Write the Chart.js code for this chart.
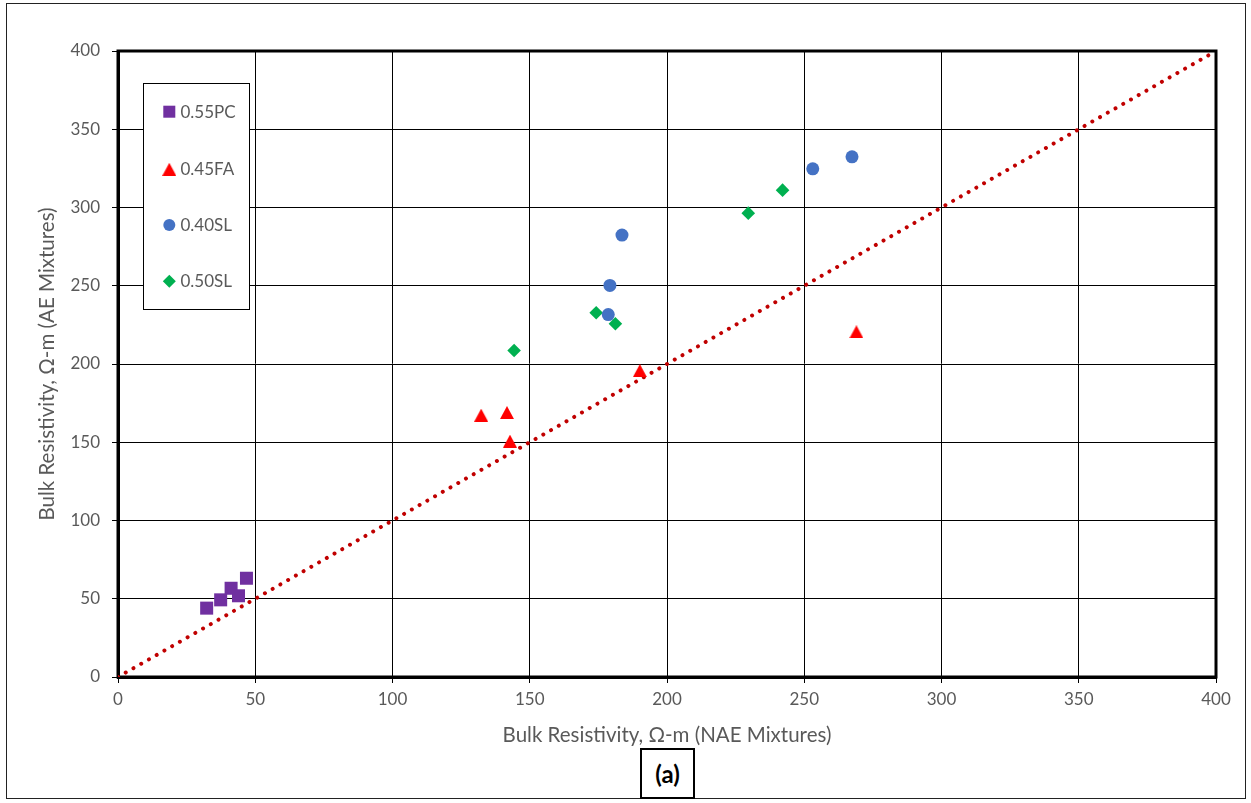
<!DOCTYPE html>
<html>
<head>
<meta charset="utf-8">
<script src="https://cdn.jsdelivr.net/npm/chart.js@4.4.1/dist/chart.umd.min.js"></script>
<style>
  html, body { margin: 0; padding: 0; background: #fff; }
  #wrap { position: relative; width: 1251px; height: 803px; }
  #frame { position: absolute; left: 6px; top: 3px; width: 1240px; height: 796px; border: 1px solid #222; box-sizing: border-box; pointer-events: none; }
  #tag { position: absolute; left: 640px; top: 748px; width: 55px; height: 51px; border: 2px solid #000; box-sizing: border-box; background: #fff;
         font: bold 24px Lato, "Liberation Sans", sans-serif; color: #000; display: flex; align-items: center; justify-content: center; }
</style>
</head>
<body>
<div id="wrap">
  <canvas id="c" width="1251" height="803"></canvas>
  <div id="frame"></div>
  <div id="tag">(a)</div>
</div>
<script>
// ---- data ----
const seriesNames = ["0.55PC", "0.45FA", "0.40SL", "0.50SL"];
const pc55X = [32.3, 37.4, 41.2, 43.9, 46.8];
const pc55Y = [44.0, 49.3, 56.7, 51.9, 63.1];
const fa45X = [132.3, 141.7, 142.8, 190.1, 269.0];
const fa45Y = [167.3, 169.0, 150.7, 195.8, 220.6];
const sl40X = [183.6, 179.2, 178.6, 253.1, 267.4];
const sl40Y = [282.4, 250.2, 231.6, 324.7, 332.4];
const sl50X = [174.2, 181.2, 242.1, 229.6, 144.3];
const sl50Y = [232.7, 225.7, 311.1, 296.4, 208.6];
const lineX = [0, 400];
const lineY = [0, 400];
const xTicks = [0, 50, 100, 150, 200, 250, 300, 350, 400];
const yTicks = [0, 50, 100, 150, 200, 250, 300, 350, 400];
const xTitle = "Bulk Resistivity, Ω-m (NAE Mixtures)";
const yTitle = "Bulk Resistivity, Ω-m (AE Mixtures)";

const FONT = "Lato, 'Liberation Sans', sans-serif";
const GRAY = "#595959";

function pts(xs, ys) { return xs.map((x, i) => ({ x: x, y: ys[i] })); }

// Excel-style triangle marker
function makeTriangle(w, h, color) {
  const cv = document.createElement('canvas');
  cv.width = w; cv.height = h;
  const g = cv.getContext('2d');
  g.fillStyle = color;
  g.beginPath();
  g.moveTo(w / 2, 0);
  g.lineTo(w, h);
  g.lineTo(0, h);
  g.closePath();
  g.fill();
  return cv;
}
const triImg = makeTriangle(14, 13, '#FF0000');

const markerDefs = [
  { style: 'rect', radius: 9.2, color: '#7030A0' },
  { style: triImg, radius: 7, color: '#FF0000' },
  { style: 'circle', radius: 6.5, color: '#4472C4' },
  { style: 'rectRot', radius: 6.8, color: '#00B050' }
];
const seriesData = [pts(pc55X, pc55Y), pts(fa45X, fa45Y), pts(sl40X, sl40Y), pts(sl50X, sl50Y)];

const datasets = seriesData.map((d, i) => ({
  label: seriesNames[i],
  data: d,
  showLine: false,
  pointStyle: markerDefs[i].style,
  pointRadius: markerDefs[i].radius,
  pointHoverRadius: markerDefs[i].radius,
  backgroundColor: markerDefs[i].color,
  borderColor: markerDefs[i].color,
  borderWidth: 0
}));
datasets.push({
  label: 'line',
  data: pts(lineX, lineY),
  showLine: true,
  pointRadius: 0,
  borderColor: '#C00000',
  borderWidth: 4,
  borderDash: [0.001, 8.9],
  borderCapStyle: 'round',
  fill: false
});

const framePlugin = {
  id: 'frame',
  beforeDatasetsDraw(chart) {
    const a = chart.chartArea, ctx = chart.ctx;
    ctx.save();
    ctx.strokeStyle = '#000';
    ctx.lineWidth = 3;
    ctx.strokeRect(a.left, a.top, a.right - a.left, a.bottom - a.top);
    ctx.restore();
  }
};

const legendPlugin = {
  id: 'boxLegend',
  afterDraw(chart) {
    const ctx = chart.ctx;
    ctx.save();
    ctx.fillStyle = '#fff';
    ctx.fillRect(143, 83, 106, 226);
    ctx.strokeStyle = '#000';
    ctx.lineWidth = 1;
    ctx.strokeRect(143.5, 83.5, 106, 226);
    const ys = [111.7, 169.3, 225, 281.3];
    const mx = 169.3;
    seriesNames.forEach((name, i) => {
      const y = ys[i];
      ctx.fillStyle = markerDefs[i].color;
      if (i === 0) {
        ctx.fillRect(mx - 6, y - 6, 12, 12);
      } else if (i === 1) {
        ctx.drawImage(triImg, mx - 7, y - 6.5);
      } else if (i === 2) {
        ctx.beginPath(); ctx.arc(mx, y, 6, 0, Math.PI * 2); ctx.fill();
      } else {
        ctx.beginPath();
        ctx.moveTo(mx, y - 6.5); ctx.lineTo(mx + 6.5, y); ctx.lineTo(mx, y + 6.5); ctx.lineTo(mx - 6.5, y);
        ctx.closePath(); ctx.fill();
      }
      ctx.fillStyle = GRAY;
      ctx.font = "17px " + FONT;
      ctx.textBaseline = 'middle';
      ctx.textAlign = 'left';
      ctx.fillText(name, 180.5, y + 0.5);
    });
    ctx.restore();
  }
};

new Chart(document.getElementById('c'), {
  type: 'scatter',
  data: { datasets: datasets },
  plugins: [framePlugin, legendPlugin],
  options: {
    responsive: false,
    animation: false,
    events: [],
    layout: { padding: { left: 0, right: 35, top: 51, bottom: 0 } },
    plugins: { legend: { display: false }, tooltip: { enabled: false } },
    scales: {
      x: {
        type: 'linear', min: 0, max: 400,
        afterBuildTicks(s) { s.ticks = xTicks.map(v => ({ value: v })); },
        afterFit(s) { s.height = 126; },
        grid: { color: '#000', lineWidth: 1, tickLength: 6, drawTicks: true },
        border: { display: true, color: '#000', width: 3 },
        ticks: { color: GRAY, font: { size: 17, family: FONT }, padding: 6, maxRotation: 0 },
        title: { display: true, text: xTitle, color: GRAY, font: { size: 20.5, family: FONT }, padding: { top: 0, bottom: 55 } }
      },
      y: {
        type: 'linear', min: 0, max: 400,
        afterBuildTicks(s) { s.ticks = yTicks.map(v => ({ value: v })); },
        afterFit(s) { s.width = 118; },
        grid: { color: '#000', lineWidth: 1, tickLength: 6, drawTicks: true },
        border: { display: true, color: '#000', width: 3 },
        ticks: { color: GRAY, font: { size: 17, family: FONT }, padding: 12 },
        title: { display: true, text: yTitle, color: GRAY, font: { size: 20.5, family: FONT }, padding: { top: 35, bottom: 0 } }
      }
    }
  }
});
</script>
</body>
</html>
